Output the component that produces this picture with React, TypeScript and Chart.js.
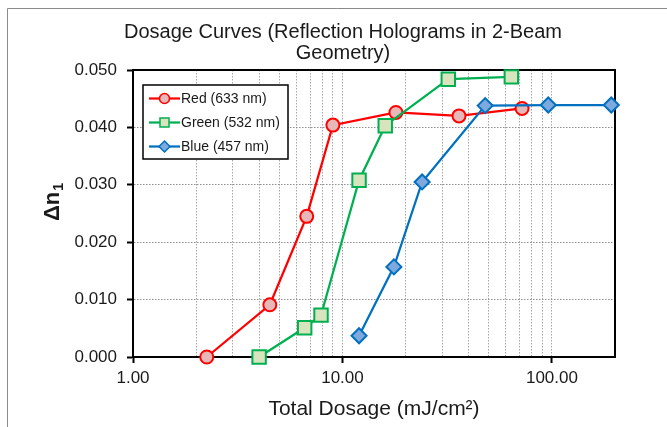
import React, { useEffect, useRef } from "react";
import { Chart, registerables } from "chart.js";

Chart.register(...registerables);

// ---- Data ----
const seriesLabels = ["Red (633 nm)", "Green (532 nm)", "Blue (457 nm)"];

const redX = [2.25, 4.5, 6.75, 9.0, 18, 36, 72];
const redY = [0.0, 0.0091, 0.0245, 0.0404, 0.0426, 0.042, 0.0433];

const greenX = [4, 6.6, 7.9, 12, 16, 32, 64];
const greenY = [0.0, 0.0051, 0.0073, 0.0308, 0.0403, 0.0484, 0.0488];

const blueX = [12, 17.6, 24, 48, 96, 192];
const blueY = [0.0037, 0.0157, 0.0305, 0.0438, 0.0439, 0.0439];

const xGridTicks = [1, 2, 3, 4, 5, 6, 7, 8, 9, 10, 20, 30, 40, 50, 60, 70, 80, 90, 100, 200];
const xLabelValues = [1, 10, 100];
const xTickLabels = ["1.00", "10.00", "100.00"];

const titleLines = ["Dosage Curves (Reflection Holograms in 2-Beam", "Geometry)"];
const xTitle = "Total Dosage (mJ/cm\u00B2)";
const yTitleMain = "\u0394n";
const yTitleSub = "1";

const FONT = "'Liberation Sans', Arial, Helvetica, sans-serif";

const colors = {
  red: { line: "#FF0000", fill: "#E6B9B8" },
  green: { line: "#00B050", fill: "#D7E4BD" },
  blue: { line: "#0070C0", fill: "#7FA9DC" },
};

function toPoints(xs: number[], ys: number[]) {
  return xs.map((x, i) => ({ x, y: ys[i] }));
}

function drawMarker(ctx: CanvasRenderingContext2D, style: string, x: number, y: number, r: number, fill: string, stroke: string) {
  ctx.save();
  ctx.beginPath();
  if (style === "circle") {
    ctx.arc(x, y, r, 0, Math.PI * 2);
  } else if (style === "rect") {
    ctx.rect(x - r, y - r, 2 * r, 2 * r);
  } else {
    ctx.moveTo(x, y - r);
    ctx.lineTo(x + r, y);
    ctx.lineTo(x, y + r);
    ctx.lineTo(x - r, y);
    ctx.closePath();
  }
  ctx.fillStyle = fill;
  ctx.fill();
  ctx.lineWidth = 1.5;
  ctx.strokeStyle = stroke;
  ctx.stroke();
  ctx.restore();
}

const decorPlugin = {
  id: "decor",
  beforeDraw(chart: any) {
    const ctx: CanvasRenderingContext2D = chart.ctx;
    ctx.save();
    ctx.fillStyle = "#ffffff";
    ctx.fillRect(0, 0, chart.width, chart.height);
    ctx.strokeStyle = "#8a8a8a";
    ctx.lineWidth = 1;
    ctx.beginPath();
    ctx.moveTo(7.5, chart.height);
    ctx.lineTo(7.5, 8.5);
    ctx.lineTo(chart.width, 8.5);
    ctx.stroke();
    ctx.restore();
  },
  beforeDatasetsDraw(chart: any) {
    const { ctx, chartArea } = chart;
    ctx.save();
    ctx.strokeStyle = "#000";
    ctx.lineWidth = 2;
    ctx.strokeRect(chartArea.left, chartArea.top, chartArea.right - chartArea.left, chartArea.bottom - chartArea.top);
    ctx.restore();
  },
  afterDatasetsDraw(chart: any) {
    const ctx: CanvasRenderingContext2D = chart.ctx;
    ctx.save();
    // Legend box
    const bx = 143, by = 85, bw = 145, bh = 74;
    ctx.fillStyle = "#fff";
    ctx.fillRect(bx, by, bw, bh);
    ctx.strokeStyle = "#000";
    ctx.lineWidth = 1.5;
    ctx.strokeRect(bx, by, bw, bh);
    const rows = [98.5, 122.5, 146.5];
    const styles = ["circle", "rect", "diamond"];
    const radii = [5, 4.5, 5.5];
    chart.data.datasets.forEach((ds: any, i: number) => {
      const y = rows[i];
      ctx.strokeStyle = ds.borderColor;
      ctx.lineWidth = 2.25;
      ctx.beginPath();
      ctx.moveTo(149, y);
      ctx.lineTo(180, y);
      ctx.stroke();
      drawMarker(ctx, styles[i], 164.5, y, radii[i], ds.pointBackgroundColor, ds.pointBorderColor);
      ctx.fillStyle = "#1a1a1a";
      ctx.font = `14px ${FONT}`;
      ctx.textAlign = "left";
      ctx.textBaseline = "middle";
      ctx.fillText(ds.label, 181, y + 1);
    });
    ctx.restore();
  },
  afterDraw(chart: any) {
    const ctx: CanvasRenderingContext2D = chart.ctx;
    const { chartArea } = chart;
    ctx.save();
    ctx.fillStyle = "#1a1a1a";
    // Title
    ctx.font = `20px ${FONT}`;
    ctx.textAlign = "center";
    ctx.textBaseline = "alphabetic";
    ctx.fillText(titleLines[0], 343, 37.5);
    ctx.fillText(titleLines[1], 343, 59);
    // X title
    ctx.font = `21px ${FONT}`;
    ctx.fillText(xTitle, (chartArea.left + chartArea.right) / 2, 415);
    // Y title
    ctx.translate(59, 221);
    ctx.rotate(-Math.PI / 2);
    ctx.textAlign = "left";
    ctx.font = `bold 22px ${FONT}`;
    ctx.fillText(yTitleMain, 0, 0);
    const w = ctx.measureText(yTitleMain).width;
    ctx.font = `bold 14px ${FONT}`;
    ctx.fillText(yTitleSub, w + 1, 4);
    ctx.restore();
  },
};

function isLabelled(v: number) {
  return xLabelValues.indexOf(v) >= 0;
}

const GRID = "#a6a6a6";

export default function App() {
  const canvasRef = useRef<HTMLCanvasElement | null>(null);

  useEffect(() => {
    if (!canvasRef.current) return;
    const chart = new Chart(canvasRef.current, {
      type: "line",
      data: {
        datasets: [
          {
            label: seriesLabels[0],
            data: toPoints(redX, redY),
            borderColor: colors.red.line,
            backgroundColor: colors.red.fill,
            pointBackgroundColor: colors.red.fill,
            pointBorderColor: colors.red.line,
            pointStyle: "circle",
            pointRadius: 6.5,
            pointBorderWidth: 2,
            borderWidth: 2.25,
            tension: 0,
            clip: false,
            order: 3,
          },
          {
            label: seriesLabels[1],
            data: toPoints(greenX, greenY),
            borderColor: colors.green.line,
            backgroundColor: colors.green.fill,
            pointBackgroundColor: colors.green.fill,
            pointBorderColor: colors.green.line,
            pointStyle: "rect",
            pointRadius: 9.5,
            pointBorderWidth: 2,
            borderWidth: 2.25,
            tension: 0,
            clip: false,
            order: 2,
          },
          {
            label: seriesLabels[2],
            data: toPoints(blueX, blueY),
            borderColor: colors.blue.line,
            backgroundColor: colors.blue.fill,
            pointBackgroundColor: colors.blue.fill,
            pointBorderColor: colors.blue.line,
            pointStyle: "rectRot",
            pointRadius: 7.5,
            pointBorderWidth: 2,
            borderWidth: 2.25,
            tension: 0,
            clip: false,
            order: 1,
          },
        ],
      },
      options: {
        animation: false,
        responsive: false,
        maintainAspectRatio: false,
        devicePixelRatio: 1,
        layout: { padding: { top: 70, right: 52, bottom: 0, left: 0 } },
        plugins: {
          legend: { display: false },
          title: { display: false },
          tooltip: { enabled: false },
        },
        scales: {
          x: {
            type: "logarithmic",
            position: "bottom",
            min: 1,
            max: 200,
            afterBuildTicks: (scale: any) => {
              scale.ticks = xGridTicks.map((v) => ({ value: v, major: isLabelled(v) }));
            },
            afterFit: (scale: any) => {
              scale.height = 70;
            },
            border: { display: true, color: "#000", width: 2, dash: [1.5, 1.5] },
            grid: {
              color: (c: any) => (c.tick && (c.tick.value === 1 || c.tick.value === 200) ? "rgba(0,0,0,0)" : GRID),
              lineWidth: 1,
              tickLength: 6,
              tickWidth: 2,
              tickColor: (c: any) => (c.tick && isLabelled(c.tick.value) ? "#000" : "rgba(0,0,0,0)"),
            },
            ticks: {
              autoSkip: false,
              maxRotation: 0,
              minRotation: 0,
              padding: 5,
              color: "#1a1a1a",
              font: { family: FONT, size: 17 },
              callback: (val: any) => {
                const i = xLabelValues.indexOf(Number(val));
                return i >= 0 ? xTickLabels[i] : "";
              },
            },
          },
          y: {
            type: "linear",
            position: "left",
            min: 0,
            max: 0.05,
            afterFit: (scale: any) => {
              scale.width = 133;
            },
            border: { display: true, color: "#000", width: 2, dash: [1.5, 1.5] },
            grid: {
              color: (c: any) => (c.tick && (c.tick.value <= 0 || c.tick.value >= 0.05) ? "rgba(0,0,0,0)" : "#8f8f8f"),
              lineWidth: 1,
              tickLength: 6,
              tickWidth: 2,
              tickColor: "#000",
            },
            ticks: {
              stepSize: 0.01,
              padding: 10,
              color: "#1a1a1a",
              font: { family: FONT, size: 17 },
              callback: (val: any) => Number(val).toFixed(3),
            },
          },
        },
      },
      plugins: [decorPlugin],
    } as any);
    return () => chart.destroy();
  }, []);

  return (
    <div style={{ position: "fixed", left: 0, top: 0, width: 667, height: 427, background: "#fff", overflow: "hidden" }}>
      <canvas ref={canvasRef} width={667} height={427} style={{ width: 667, height: 427, display: "block" }} />
    </div>
  );
}
